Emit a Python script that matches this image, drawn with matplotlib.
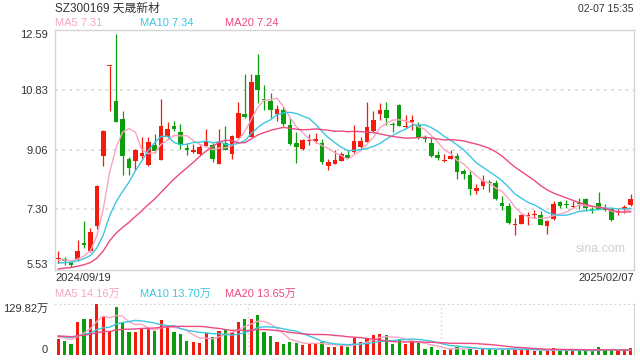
import numpy as np
import matplotlib.pyplot as plt

plt.rcParams['font.family'] = ['Liberation Sans', 'Noto Sans CJK SC', 'DejaVu Sans']

# daily k-line 2024/09/19 .. 2025/02/07
open_ = [5.84, 5.83, 5.76, 5.83, 6.32, 6.07, 6.81, 8.87, 11.52, 10.50,
         9.96, 8.79, 8.72, 8.89, 8.60, 9.21, 8.77, 9.43, 9.77, 9.59,
         9.10, 8.98, 8.94, 9.18, 9.21, 8.65, 9.26, 8.92, 9.40, 10.12,
         9.45, 11.27, 10.55, 10.50, 10.12, 10.24, 9.80, 9.26, 9.09, 9.32,
         9.32, 9.26, 8.57, 8.65, 8.72, 8.91, 8.98, 9.13, 9.30, 9.60,
         10.11, 10.24, 9.79, 10.38, 9.72, 9.87, 9.80, 9.38, 9.26, 8.91,
         8.72, 8.80, 8.88, 8.44, 8.33, 7.84, 8.00, 8.08, 8.07, 7.50,
         7.41, 6.84, 6.88, 7.11, 7.13, 7.14, 6.81, 7.02, 7.51, 7.45,
         7.38, 7.48, 7.61, 7.30, 7.49, 7.30, 7.32, 7.20, 7.32, 7.42]
high = [6.07, 5.90, 5.79, 6.39, 6.95, 6.76, 8.03, 9.63, 11.52, 12.47,
        10.21, 8.85, 9.09, 9.45, 9.43, 9.53, 10.56, 9.88, 9.91, 9.83,
        9.26, 9.23, 9.21, 9.68, 9.26, 9.68, 9.77, 9.50, 10.48, 11.30,
        11.30, 11.88, 10.97, 10.73, 10.38, 10.32, 9.99, 9.58, 9.38, 9.52,
        9.55, 9.38, 8.79, 9.04, 8.98, 9.04, 9.80, 9.45, 10.48, 10.19,
        10.45, 10.48, 9.89, 10.41, 10.09, 10.09, 9.87, 9.50, 9.40, 9.01,
        8.93, 9.04, 8.96, 8.49, 8.42, 8.06, 8.31, 8.18, 8.18, 7.69,
        7.49, 7.05, 7.18, 7.22, 7.27, 7.25, 7.00, 7.54, 7.54, 7.57,
        7.56, 7.64, 7.64, 7.37, 7.82, 7.47, 7.35, 7.30, 7.42, 7.77]
low = [5.73, 5.66, 5.61, 5.78, 6.17, 6.04, 6.73, 8.57, 10.19, 9.89,
       8.31, 8.31, 8.47, 8.79, 8.57, 8.97, 8.75, 9.40, 9.60, 9.08,
       8.91, 8.96, 8.90, 9.16, 8.70, 8.65, 9.04, 8.80, 9.40, 9.99,
       9.45, 10.43, 10.24, 9.99, 9.91, 9.75, 9.21, 8.67, 9.06, 9.21,
       9.26, 8.65, 8.45, 8.65, 8.72, 8.81, 8.96, 9.11, 9.28, 9.55,
       9.94, 9.80, 9.58, 9.75, 9.70, 9.63, 9.39, 9.28, 8.84, 8.75,
       8.69, 8.79, 8.20, 8.21, 7.74, 7.77, 7.90, 7.81, 7.59, 7.28,
       6.87, 6.56, 6.88, 6.83, 7.05, 6.83, 6.59, 7.00, 7.34, 7.34,
       7.34, 7.30, 7.25, 7.20, 7.30, 7.25, 6.96, 7.15, 7.20, 7.39]
close = [5.87, 5.78, 5.65, 6.09, 6.24, 6.65, 7.98, 9.60, 11.52, 9.89,
         8.89, 8.52, 9.06, 8.97, 9.30, 9.01, 9.77, 9.68, 9.67, 9.21,
         9.04, 9.04, 9.13, 9.31, 8.80, 9.28, 9.06, 9.47, 10.15, 10.02,
         11.07, 10.83, 10.53, 10.22, 10.27, 9.83, 9.24, 9.14, 9.35, 9.35,
         9.38, 8.69, 8.69, 8.75, 8.94, 8.83, 9.32, 9.32, 9.72, 9.94,
         10.24, 9.99, 9.78, 9.77, 9.77, 9.94, 9.43, 9.37, 8.88, 8.83,
         8.77, 8.89, 8.39, 8.35, 7.90, 7.94, 8.13, 8.07, 7.62, 7.40,
         6.89, 6.86, 7.15, 7.14, 7.18, 6.85, 6.95, 7.47, 7.39, 7.44,
         7.40, 7.47, 7.35, 7.29, 7.32, 7.29, 6.98, 7.23, 7.37, 7.61]
# volume in 万 shares
volume = [41.0, 35.9, 28.2, 84.5, 92.2, 92.2, 129.8, 97.4, 61.5, 123.0,
          82.0, 59.8, 59.8, 68.3, 68.3, 61.5, 89.7, 72.6, 58.9, 53.8,
          36.7, 34.2, 31.6, 57.2, 46.1, 61.5, 66.6, 58.1, 84.5, 92.2,
          92.2, 102.5, 58.9, 48.7, 34.2, 28.2, 33.3, 31.6, 25.6, 28.2,
          28.2, 34.2, 19.6, 19.6, 23.1, 19.6, 44.4, 34.2, 42.7, 51.2,
          53.8, 51.2, 28.2, 40.1, 28.2, 34.2, 31.6, 15.4, 19.6, 12.8,
          12.8, 14.5, 21.4, 12.8, 21.4, 12.8, 15.4, 15.4, 12.8, 14.5,
          15.4, 12.8, 14.5, 14.5, 10.2, 10.2, 10.2, 17.1, 12.8, 10.2,
          10.2, 12.8, 11.1, 10.2, 19.6, 12.8, 12.8, 10.2, 12.8, 17.1]
# closes / volumes before the visible window, only used to seed the moving averages
prior_close = [5.30, 5.32, 5.35, 5.33, 5.38, 5.40, 5.36, 5.42, 5.45, 5.50,
               5.55, 5.60, 5.62, 5.65, 5.70, 5.75, 5.78, 5.82, 5.80]
prior_volume = [45, 50, 48, 52, 47, 44, 49, 51, 46, 50,
                53, 48, 45, 52, 55, 47, 50, 44, 46]

price_ticks = [5.53, 7.30, 9.06, 10.83, 12.59]
vol_max = 129.82

RED = '#f21b0e'
GREEN = '#0d9e0d'
C_MA5 = '#f8a5c2'
C_MA10 = '#3cc6e2'
C_MA20 = '#ee4a80'
TXT = '#333333'


def moving_avg(prior, vals, n):
    s = np.array(prior + vals, dtype=float)
    out = np.convolve(s, np.ones(n) / n, mode='valid')
    return out[-len(vals):]


o = np.array(open_)
c = np.array(close)
h = np.array(high)
l = np.array(low)
x = np.arange(len(c))
up = c >= o
colors = np.where(up, RED, GREEN)

fig = plt.figure(figsize=(6.4, 3.6), dpi=100)
ax = fig.add_axes([55 / 640, 1 - 269.5 / 360, 579 / 640, 239.5 / 360])
axv = fig.add_axes([55 / 640, 1 - 355 / 360, 579 / 640, 51 / 360])

# candles
body_lo = np.minimum(o, c)
body_h = np.maximum(np.abs(c - o), 0.03)
ax.vlines(x, l, h, colors=colors, linewidth=0.9, zorder=2)
ax.bar(x, body_h, bottom=body_lo, width=0.72, color=colors, linewidth=0, zorder=3)

ax.plot(x, moving_avg(prior_close, close, 5), color=C_MA5, lw=1.0, zorder=4)
ax.plot(x, moving_avg(prior_close, close, 10), color=C_MA10, lw=1.0, zorder=4)
ax.plot(x, moving_avg(prior_close, close, 20), color=C_MA20, lw=1.0, zorder=4)

ax.set_xlim(-0.5, len(c) - 0.5)
ax.set_ylim(price_ticks[0], price_ticks[-1])
for yv in price_ticks[1:-1]:
    ax.axhline(yv, color='#dcdcdc', lw=1.3, ls=(0, (1.5, 2.5)), zorder=1)
ax.set_xticks([])
ax.set_yticks(price_ticks)
ax.set_yticklabels([f'{v:.2f}' for v in price_ticks])
ax.tick_params(axis='y', length=0, pad=5, labelsize=8, labelcolor=TXT)
labs = ax.get_yticklabels()
labs[0].set_va('bottom')
labs[-1].set_va('top')
for sp in ax.spines.values():
    sp.set_color('#d4d4d4')
    sp.set_linewidth(1.0)
ax.text(0.985, 0.085, 'sina.com', transform=ax.transAxes, ha='right', va='center',
        fontsize=9, color='#cfcfcf')

# volume
axv.bar(x, volume, width=0.5, color=colors, linewidth=0, zorder=2)
axv.plot(x, moving_avg(prior_volume, volume, 5), color=C_MA5, lw=1.0, zorder=3)
axv.plot(x, moving_avg(prior_volume, volume, 10), color=C_MA10, lw=1.0, zorder=3)
axv.plot(x, moving_avg(prior_volume, volume, 20), color=C_MA20, lw=1.0, zorder=3)
axv.set_xlim(-0.5, len(c) - 0.5)
axv.set_ylim(0, vol_max)
for xv in [29.5, 59.5]:
    axv.axvline(xv, color='#d0d0d0', lw=1.0, ls=(0, (1, 2)), zorder=1)
axv.set_xticks([])
axv.set_yticks([0, vol_max])
axv.set_yticklabels(['0', '129.82万'])
axv.tick_params(axis='y', length=0, pad=5, labelsize=8, labelcolor=TXT)
vl = axv.get_yticklabels()
vl[0].set_va('bottom')
vl[1].set_va('top')
for name, sp in axv.spines.items():
    sp.set_visible(False)
axv.spines['right'].set_visible(True)
axv.spines['right'].set_color('#d4d4d4')
axv.axhline(vol_max, color='#d0d0d0', lw=1.3, ls=(0, (1, 1.5)), zorder=1)

# header texts
fig.text(55 / 640, 1 - 9 / 360, 'SZ300169 天晟新材', fontsize=8.5, color=TXT, va='center')
fig.text(634 / 640, 1 - 9 / 360, '02-07 15:35', fontsize=7.5, color=TXT, va='center', ha='right')
fig.text(55 / 640, 1 - 23 / 360, 'MA5 7.31', fontsize=8, color=C_MA5, va='center')
fig.text(140 / 640, 1 - 23 / 360, 'MA10 7.34', fontsize=8, color=C_MA10, va='center')
fig.text(225 / 640, 1 - 23 / 360, 'MA20 7.24', fontsize=8, color=C_MA20, va='center')
fig.text(55 / 640, 1 - 278 / 360, '2024/09/19', fontsize=8, color=TXT, va='center')
fig.text(634 / 640, 1 - 278 / 360, '2025/02/07', fontsize=8, color=TXT, va='center', ha='right')
fig.text(55 / 640, 1 - 294 / 360, 'MA5 14.16万', fontsize=8, color=C_MA5, va='center')
fig.text(140 / 640, 1 - 294 / 360, 'MA10 13.70万', fontsize=8, color=C_MA10, va='center')
fig.text(225 / 640, 1 - 294 / 360, 'MA20 13.65万', fontsize=8, color=C_MA20, va='center')

fig.savefig('out.png', dpi=100)
